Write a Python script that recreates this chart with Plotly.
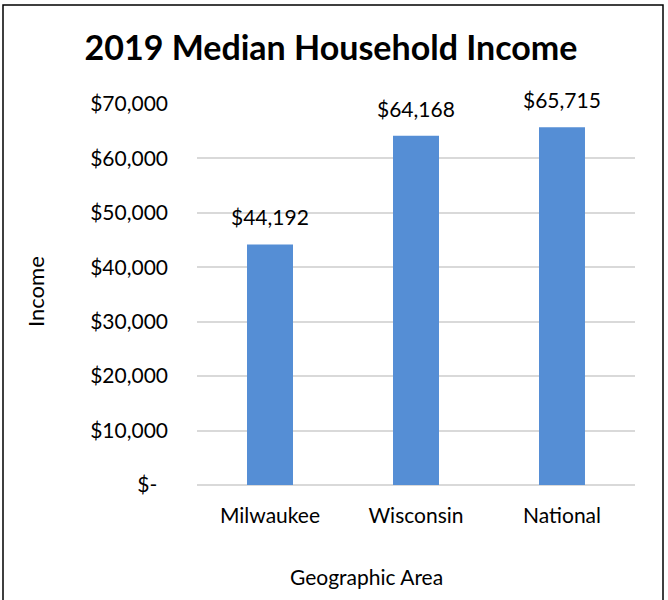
import plotly.graph_objects as go

# Data
areas = ['Milwaukee', 'Wisconsin', 'National']
incomes = [44192, 64168, 65715]
tick_vals = [0, 10000, 20000, 30000, 40000, 50000, 60000, 70000]
tick_text = ['$-\u00a0\u00a0', '$10,000', '$20,000', '$30,000', '$40,000',
             '$50,000', '$60,000', '$70,000']

FONT = 'Lato'
BAR_COLOR = '#558ed5'
GRID = '#d9d9d9'

# plot area in pixels (left, right, top, bottom)
L, R, T, B = 197, 635, 104, 485
W, H = 668, 600
pw, ph = R - L, B - T


def px_x(x):
    return (x - L) / pw


def px_y(y):
    return (B - y) / ph


fig = go.Figure()

fig.add_trace(go.Bar(
    x=areas,
    y=incomes,
    marker=dict(color=BAR_COLOR, line=dict(width=0)),
    hovertemplate='<b>%{x}</b><br>$%{y:,}<extra></extra>',
))

# Data labels above the bars
for a, v in zip(areas, incomes):
    fig.add_annotation(
        x=a, y=v, text=f"${v:,}", showarrow=False,
        yanchor='bottom', yshift=13,
        font=dict(family=FONT, size=21, color='#000000'),
    )

# Axis titles
fig.add_annotation(
    xref='paper', yref='paper', x=px_x(35), y=px_y(292),
    xanchor='center', yanchor='middle',
    text='Income', textangle=-90, showarrow=False,
    font=dict(family=FONT, size=22, color='#000000'),
)
fig.add_annotation(
    xref='paper', yref='paper', x=px_x(366), y=px_y(576),
    xanchor='center', yanchor='middle',
    text='Geographic Area', showarrow=False,
    font=dict(family=FONT, size=21, color='#000000'),
)

# Chart border
fig.add_shape(
    type='rect', xref='paper', yref='paper',
    x0=px_x(3), x1=px_x(663), y0=px_y(610), y1=px_y(5),
    line=dict(color='#000000', width=1.5), layer='above',
)

fig.update_layout(
    title=dict(
        text='<b>2019 Median Household Income</b>',
        font=dict(family=FONT, size=34, color='#000000'),
        x=331 / W, xanchor='center',
        y=1 - 48 / H, yanchor='middle',
    ),
    xaxis=dict(
        showgrid=False,
        showline=False,
        ticks='',
        tickfont=dict(family=FONT, size=21, color='#000000'),
        ticklabelstandoff=16,
    ),
    yaxis=dict(
        range=[0, 70000],
        tickvals=tick_vals,
        ticktext=tick_text,
        showgrid=True,
        gridcolor=GRID,
        gridwidth=1.5,
        zeroline=True,
        zerolinecolor=GRID,
        zerolinewidth=2,
        ticks='',
        tickfont=dict(family=FONT, size=21, color='#000000'),
        ticklabelstandoff=28,
    ),
    bargap=0.685,
    showlegend=False,
    width=W, height=H,
    margin=dict(l=L, r=W - R, t=T, b=H - B, autoexpand=False),
    paper_bgcolor='white',
    plot_bgcolor='white',
)

fig.write_html("out.html", config={'displayModeBar': False},
               post_script="document.body.style.margin='0';")
